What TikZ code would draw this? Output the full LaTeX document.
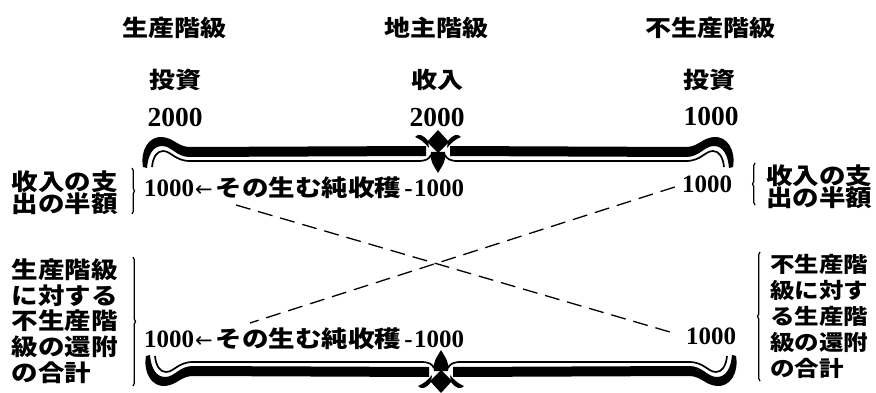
\documentclass[tikz,border=0pt]{standalone}
\usepackage{fontspec}
\usepackage{graphicx}
\setmainfont{Noto Sans CJK JP}
\newfontfamily\numfont{Liberation Serif}
\newfontfamily\arrowfont{DejaVu Sans}
\usetikzlibrary{decorations.pathreplacing}
\lineskiplimit=-100pt
\lineskip=0pt
% squat CJK lettering
\newcommand{\sq}[1]{\scalebox{1}[0.87]{\bfseries #1}}
\newcommand{\rnum}[1]{{\numfont\bfseries\fontsize{25}{26}\selectfont #1}}
\newcommand{\larrow}{{\arrowfont\fontsize{21}{21}\selectfont ←}}
% one half of the ornamental bracket, drawn left of its centre
\newcommand{\halfbrace}{%
  \fill (-295,167) .. controls (-298,150) and (-289,136) .. (-276,137)
        .. controls (-264,138) and (-260,147) .. (-248,147) -- (-12,146)
        -- (-12,156) -- (-248,157)
        .. controls (-262,157) and (-266,146) .. (-276,146)
        .. controls (-285,146) and (-290,155) .. (-291,168) -- cycle;
  \draw[thinrule] (-286,167) .. controls (-285,157) and (-281,151) .. (-275,151)
        .. controls (-267,151) and (-263,161) .. (-248,161) -- (-20,161)
        .. controls (-12,161) and (-9,159) .. (-7,155);
  \fill (-10,141) .. controls (-14,135) and (-20,133) .. (-23,137)
        .. controls (-18,139) and (-14,142) .. (-9,148) -- cycle;
}
% centre piece of the bracket
\newcommand{\centrepiece}{%
  \fill (0,130) -- (11,142) -- (0,153) -- (-11,142) -- cycle;
  \fill (0,173) .. controls (-4,166) and (-9,160) .. (-7,152) -- (7,152)
        .. controls (9,160) and (4,166) .. (0,173) -- cycle;
}
\newcommand{\fullbrace}{%
  \halfbrace
  \begin{scope}[xscale=-1]\halfbrace\end{scope}
  \centrepiece
}
\begin{document}
\begin{tikzpicture}[x=1pt,y=-1pt,inner sep=0pt,
  thinrule/.style={line width=1.7pt},
  head/.style={font=\fontsize{26}{28}\selectfont},
  bignum/.style={font=\numfont\bfseries\fontsize{27.5}{28}\selectfont},
  rownum/.style={font=\numfont\bfseries\fontsize{25}{26}\selectfont},
  rowtxt/.style={anchor=west,font=\fontsize{26.5}{28}\selectfont},
  note/.style={align=left,font={\fontsize{26.5}{22}\selectfont}},
  tallnote/.style={align=left,font={\fontsize{26.5}{25.7}\selectfont}},
  tallnoteR/.style={align=left,font={\fontsize{24.5}{26}\selectfont}},
  dashline/.style={line width=1.3pt,dash pattern=on 15pt off 8pt},
  bracket/.style={decorate,decoration={brace,amplitude=2.5pt},line width=1.3pt}]
\useasboundingbox[fill=white] (0,0) rectangle (876,393);

% column headings
\node[head] (h1) at (174,28) {\sq{生産階級}};
\node[head] (h2) at (436,28) {\sq{地主階級}};
\node[head] (h3) at (710,28) {\sq{不生産階級}};
\node[head] (i1) at (175,80) {\sq{投資}};
\node[head] (i2) at (437,80) {\sq{收入}};
\node[head] (i3) at (709,80) {\sq{投資}};
\node[bignum] (n1) at (175,117) {2000};
\node[bignum] (n2) at (437,117) {2000};
\node[bignum] (n3) at (711,116) {1000};

% upper and lower brackets
\begin{scope}[shift={(438,0)}]\fullbrace\end{scope}
\begin{scope}[shift={(441,523)},yscale=-1]\fullbrace\end{scope}

% the two rows
\node[rowtxt] (rowA) at (144,188) {\rnum{1000}\hspace{1pt}\larrow\hspace{3pt}\sq{その生む純收穫}\hspace{3pt}\rnum{-}\hspace{1.5pt}\rnum{1000}};
\node[rowtxt] (rowB) at (144,339) {\rnum{1000}\hspace{1pt}\larrow\hspace{3pt}\sq{その生む純收穫}\hspace{3pt}\rnum{-}\hspace{1.5pt}\rnum{1000}};
\node[rownum] (rnA) at (707,184) {1000};
\node[rownum] (rnB) at (711,336) {1000};

% side notes
\node[note] (lu) at (65,193) {\sq{收入の支}\\\sq{出の半額}};
\node[note] (ru) at (819,187) {\sq{收入の支}\\\sq{出の半額}};
\node[tallnote] (ll) at (65,321) {\sq{生産階級}\\\sq{に対する}\\\sq{不生産階}\\\sq{級の還附}\\\sq{の合計}};
\node[tallnoteR] (rl) at (819,316) {\sq{不生産階}\\\sq{級に対す}\\\sq{る生産階}\\\sq{級の還附}\\\sq{の合計}};

\coordinate (bl1t) at (132,168);
\coordinate (bl1b) at (132,214);
\coordinate (bl2t) at (133,257);
\coordinate (bl2b) at (133,386);
\coordinate (br1t) at (755,163);
\coordinate (br1b) at (755,205);
\coordinate (br2t) at (760,252);
\coordinate (br2b) at (760,381);
\draw[bracket] (bl1t) -- (bl1b);
\draw[bracket] (bl2t) -- (bl2b);
\draw[bracket] (br1b) -- (br1t);
\draw[bracket] (br2b) -- (br2t);

% crossing dashed transfers
\coordinate (dA) at (236,205);
\coordinate (dB) at (250,323);
\draw[dashline] (dA) -- ([xshift=-9pt,yshift=2pt]rnB.west);
\draw[dashline] ([xshift=-7pt,yshift=-3pt]rnA.west) -- (dB);
\end{tikzpicture}
\end{document}
